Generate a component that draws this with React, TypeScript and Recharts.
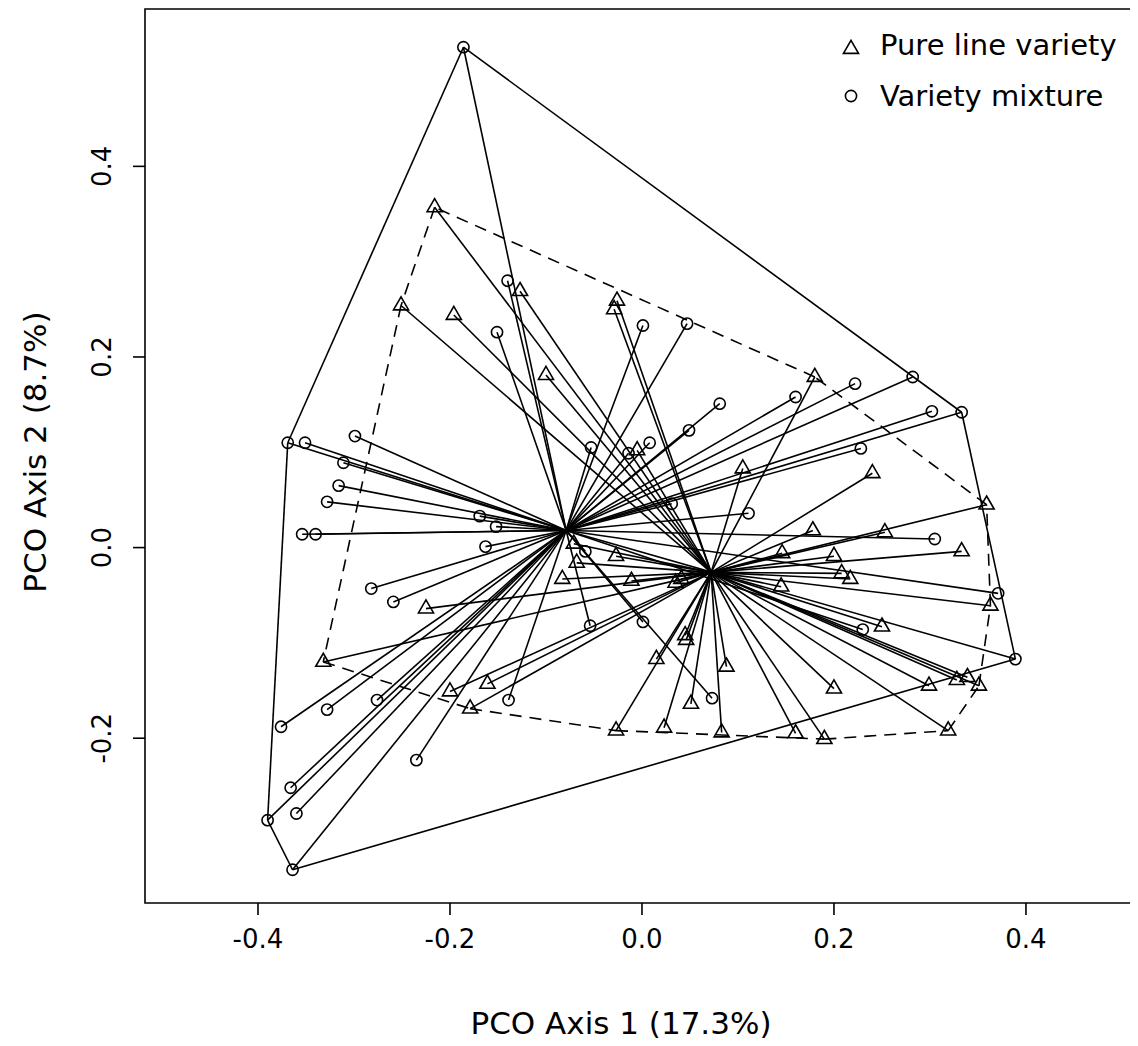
import React from 'react';
import { ScatterChart, Scatter, XAxis, YAxis, ReferenceLine, ReferenceArea } from 'recharts';

// Variety mixture (circles)
const mixtureX = [-0.186, -0.369, -0.351, -0.299, -0.311, -0.316, -0.328, -0.354, -0.340, -0.169, -0.152, -0.163, -0.282, -0.259, -0.376, -0.328, -0.276, -0.366, -0.360, -0.390, -0.364, -0.235, -0.139, -0.054, -0.059, 0.001, 0.073, -0.140, -0.151, 0.001, 0.047, -0.053, -0.014, 0.008, 0.049, 0.081, 0.160, 0.222, 0.282, 0.302, 0.333, 0.228, 0.111, 0.031, 0.305, 0.371, 0.389, 0.230];
const mixtureY = [0.525, 0.110, 0.110, 0.117, 0.089, 0.065, 0.048, 0.014, 0.014, 0.033, 0.022, 0.001, -0.043, -0.057, -0.188, -0.170, -0.160, -0.252, -0.279, -0.286, -0.338, -0.223, -0.160, -0.082, -0.004, -0.078, -0.158, 0.280, 0.226, 0.233, 0.235, 0.105, 0.099, 0.110, 0.123, 0.151, 0.158, 0.172, 0.179, 0.143, 0.142, 0.104, 0.036, 0.046, 0.009, -0.048, -0.117, -0.086];

// Pure line variety (triangles)
const pureX = [-0.216, -0.127, -0.026, -0.029, -0.251, -0.196, -0.100, -0.005, -0.071, -0.068, -0.027, -0.083, -0.011, 0.180, 0.105, 0.240, 0.178, 0.253, 0.146, 0.200, 0.208, 0.217, 0.145, 0.359, 0.333, 0.363, 0.250, 0.299, 0.328, 0.339, 0.351, 0.319, 0.045, 0.046, 0.015, 0.088, 0.051, 0.200, 0.023, 0.083, 0.160, 0.190, -0.225, -0.200, -0.161, -0.179, -0.027, -0.332, 0.035, 0.041];
const pureY = [0.357, 0.269, 0.259, 0.250, 0.254, 0.244, 0.181, 0.102, 0.004, -0.016, -0.009, -0.033, -0.035, 0.179, 0.083, 0.078, 0.018, 0.016, -0.006, -0.009, -0.027, -0.033, -0.041, 0.045, -0.004, -0.061, -0.083, -0.145, -0.139, -0.136, -0.145, -0.192, -0.092, -0.097, -0.117, -0.125, -0.164, -0.148, -0.189, -0.194, -0.195, -0.201, -0.064, -0.151, -0.143, -0.169, -0.192, -0.120, -0.037, -0.033];

const mixtureCentroid = { x: -0.079, y: 0.018 };
const pureCentroid = { x: 0.072, y: -0.026 };

const xTicks = [-0.4, -0.2, 0, 0.2, 0.4];
const yTicks = [-0.2, 0, 0.2, 0.4];
const xDomain = [-0.5177, 0.5115];
const yDomain = [-0.3729, 0.5651];

const xTitle = 'PCO Axis 1 (17.3%)';
const yTitle = 'PCO Axis 2 (8.7%)';
const legendLabels = ['Pure line variety', 'Variety mixture'];

type P = { x: number; y: number };
const toPts = (xs: number[], ys: number[]): P[] => xs.map((x, i) => ({ x, y: ys[i] }));
const mixture = toPts(mixtureX, mixtureY);
const pure = toPts(pureX, pureY);

function hull(points: P[]): P[] {
  const pts = [...points].sort((a, b) => (a.x === b.x ? a.y - b.y : a.x - b.x));
  const cross = (o: P, a: P, b: P) => (a.x - o.x) * (b.y - o.y) - (a.y - o.y) * (b.x - o.x);
  const lower: P[] = [];
  for (const p of pts) {
    while (lower.length >= 2 && cross(lower[lower.length - 2], lower[lower.length - 1], p) <= 0) lower.pop();
    lower.push(p);
  }
  const upper: P[] = [];
  for (let i = pts.length - 1; i >= 0; i--) {
    const p = pts[i];
    while (upper.length >= 2 && cross(upper[upper.length - 2], upper[upper.length - 1], p) <= 0) upper.pop();
    upper.push(p);
  }
  upper.pop();
  lower.pop();
  return lower.concat(upper);
}

const edges = (h: P[]) => h.map((p, i) => [p, h[(i + 1) % h.length]]);

const FONT = '"DejaVu Sans", Verdana, sans-serif';
const LW = 1.6;
const TICK_FS = 26;
const TITLE_FS = 31;

const CircleShape = (props: any) => (
  <circle cx={props.cx} cy={props.cy} r={5.6} fill="none" stroke="#000" strokeWidth={LW} />
);
const TriShape = (props: any) => {
  const { cx, cy } = props;
  const s = 5.6;
  const pts = `${cx},${cy - 1.555 * s} ${cx + 1.347 * s},${cy + 0.778 * s} ${cx - 1.347 * s},${cy + 0.778 * s}`;
  return <polygon points={pts} fill="none" stroke="#000" strokeWidth={LW} />;
};

const YTick = (props: any) => {
  const { x, y, payload } = props;
  return (
    <text x={x} y={y} transform={`rotate(-90, ${x}, ${y})`} textAnchor="middle" fontSize={TICK_FS} fontFamily={FONT} fill="#000">
      {Number(payload.value).toFixed(1)}
    </text>
  );
};

const XTitle = (props: any) => {
  const vb = props.viewBox || {};
  return (
    <text x={vb.x + vb.width / 2 - 18} y={vb.y + 131} textAnchor="middle" fontSize={TITLE_FS} fontFamily={FONT} fill="#000">
      {xTitle}
    </text>
  );
};
const YTitle = (props: any) => {
  const vb = props.viewBox || {};
  const cx = 38;
  const cy = vb.y + vb.height / 2 - 4;
  return (
    <text x={cx} y={cy} transform={`rotate(-90, ${cx}, ${cy})`} textAnchor="middle" fontSize={TITLE_FS} fontFamily={FONT} fill="#000">
      {yTitle}
    </text>
  );
};

export default function App() {
  const mixHull = edges(hull(mixture));
  const pureHull = edges(hull(pure));
  return (
    <div style={{ position: 'relative', width: 1130, height: 1038 }}>
      <ScatterChart width={1130} height={1038} margin={{ top: 1, right: 5, bottom: 0, left: 0 }}>
        <XAxis
          type="number"
          dataKey="x"
          domain={xDomain}
          ticks={xTicks}
          allowDataOverflow
          height={143}
          axisLine={false}
          tickLine={{ stroke: '#000', strokeWidth: LW }}
          tickSize={12}
          tickMargin={15}
          tickFormatter={(v: number) => v.toFixed(1)}
          tick={{ fill: '#000', fontSize: TICK_FS, fontFamily: FONT }}
          label={<XTitle />}
        />
        <YAxis
          type="number"
          dataKey="y"
          domain={yDomain}
          ticks={yTicks}
          allowDataOverflow
          width={137}
          axisLine={false}
          tickLine={{ stroke: '#000', strokeWidth: LW }}
          tickSize={12}
          tickMargin={22}
          tick={<YTick />}
          label={<YTitle />}
        />
        <ReferenceArea x1={xDomain[0]} x2={xDomain[1]} y1={yDomain[0]} y2={yDomain[1]} fill="none" fillOpacity={0} stroke="#000" strokeWidth={LW} ifOverflow="visible" />
        {mixHull.map(([a, b], i) => (
          <ReferenceLine key={`mh${i}`} segment={[a, b]} stroke="#000" strokeWidth={LW} ifOverflow="visible" />
        ))}
        {pureHull.map(([a, b], i) => (
          <ReferenceLine key={`ph${i}`} segment={[a, b]} stroke="#000" strokeWidth={LW} strokeDasharray="12 8" ifOverflow="visible" />
        ))}
        {mixture.map((p, i) => (
          <ReferenceLine key={`ms${i}`} segment={[p, mixtureCentroid]} stroke="#000" strokeWidth={LW} ifOverflow="visible" />
        ))}
        {pure.map((p, i) => (
          <ReferenceLine key={`ps${i}`} segment={[p, pureCentroid]} stroke="#000" strokeWidth={LW} ifOverflow="visible" />
        ))}
        <Scatter name={legendLabels[1]} data={mixture} shape={<CircleShape />} isAnimationActive={false} />
        <Scatter name={legendLabels[0]} data={pure} shape={<TriShape />} isAnimationActive={false} />
      </ScatterChart>
      <svg width={1130} height={1038} style={{ position: 'absolute', left: 0, top: 0, pointerEvents: 'none' }}>
        <g>
          <polygon points={`${843},${37 - 1.555 * 5.6 + 4} ${843 + 1.347 * 5.6},${37 + 0.778 * 5.6 + 4} ${843 - 1.347 * 5.6},${37 + 0.778 * 5.6 + 4}`} fill="none" stroke="#000" strokeWidth={LW} />
          <text x={872} y={47} fontSize={29} fontFamily={FONT} fill="#000">{legendLabels[0]}</text>
          <circle cx={843} cy={88} r={5.6} fill="none" stroke="#000" strokeWidth={LW} />
          <text x={872} y={98} fontSize={29} fontFamily={FONT} fill="#000">{legendLabels[1]}</text>
        </g>
      </svg>
    </div>
  );
}
